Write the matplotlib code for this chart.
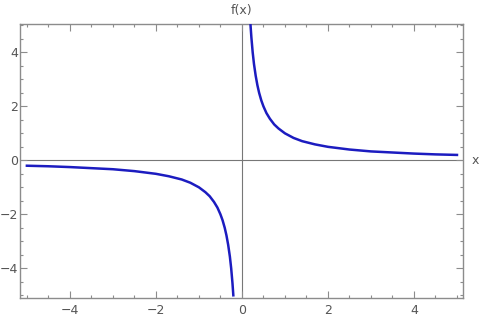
#!/usr/bin/env python3

from matplotlib import pyplot as plt
from matplotlib.ticker import MultipleLocator

# Points, right branch
x_right = [0.20, 0.22, 0.25, 0.28, 0.32, 0.36, 0.40, 0.45, 0.50, 0.57, 0.65,
           0.75, 0.85, 1.00, 1.20, 1.40, 1.70, 2.00, 2.50, 3.00, 3.50, 4.00,
           4.50, 5.00]
y_right = [5.00, 4.55, 4.00, 3.57, 3.13, 2.78, 2.50, 2.22, 2.00, 1.75, 1.54,
           1.33, 1.18, 1.00, 0.83, 0.71, 0.59, 0.50, 0.40, 0.33, 0.29, 0.25,
           0.22, 0.20]
# Points, left branch
x_left = [-5.00, -4.50, -4.00, -3.50, -3.00, -2.50, -2.00, -1.70, -1.40,
          -1.20, -1.00, -0.85, -0.75, -0.65, -0.57, -0.50, -0.45, -0.40,
          -0.36, -0.32, -0.28, -0.25, -0.22, -0.20]
y_left = [-0.20, -0.22, -0.25, -0.29, -0.33, -0.40, -0.50, -0.59, -0.71,
          -0.83, -1.00, -1.18, -1.33, -1.54, -1.75, -2.00, -2.22, -2.50,
          -2.78, -3.13, -3.57, -4.00, -4.55, -5.00]

x_ticks = [-4, -2, 0, 2, 4]
y_ticks = [-4, -2, 0, 2, 4]

line_color = '#1c1cc0'
frame_color = '#8c8c8c'
text_color = '#555555'

fig = plt.figure(figsize=(4.8, 3.16), dpi=100)
ax = fig.add_axes([20 / 480, 1 - 298 / 316, 443 / 480, 274 / 316])

# Axes through origin
ax.axhline(0, color='#777777', linewidth=0.8, zorder=1)
ax.axvline(0, color='#777777', linewidth=0.8, zorder=1)

ax.plot(x_right, y_right, color=line_color, linewidth=1.8, zorder=3)
ax.plot(x_left, y_left, color=line_color, linewidth=1.8, zorder=3)

ax.set_xlim(-5.16, 5.14)
ax.set_ylim(-5.1, 5.05)
ax.set_xticks(x_ticks)
ax.set_yticks(y_ticks)
ax.xaxis.set_minor_locator(MultipleLocator(0.5))
ax.yaxis.set_minor_locator(MultipleLocator(0.5))
ax.set_xticklabels(['\u22124', '\u22122', '0', '2', '4'])
ax.set_yticklabels(['\u22124', '\u22122', '0', '2', '4'])

for spine in ax.spines.values():
    spine.set_color(frame_color)
    spine.set_linewidth(1.0)

ax.tick_params(which='both', direction='in', top=True, right=True,
               color=frame_color, labelcolor=text_color, labelsize=9,
               width=0.8)
ax.tick_params(which='major', length=5)
ax.tick_params(which='minor', length=2.5)
ax.tick_params(axis='x', which='major', pad=4)
ax.tick_params(axis='y', which='major', pad=1.5)

# Axis labels at the ends of the origin lines
ax.text(0, 5.3, 'f(x)', ha='center', va='bottom', fontsize=9,
        color=text_color, clip_on=False)
ax.text(5.35, 0, 'x', ha='left', va='center', fontsize=9,
        color=text_color, clip_on=False)

plt.savefig('out.png', dpi=100)
